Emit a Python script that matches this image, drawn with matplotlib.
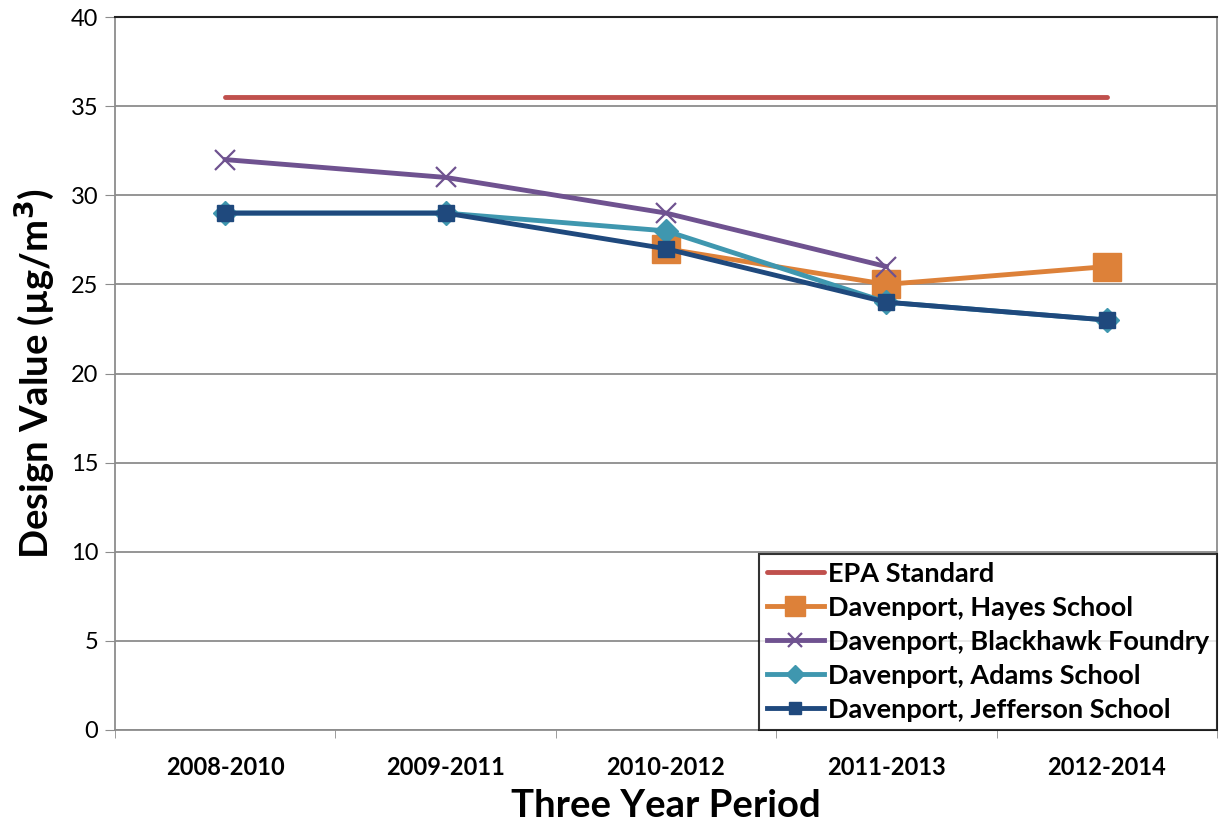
import numpy as np
import matplotlib.pyplot as plt

plt.rcParams['font.family'] = ['Lato', 'DejaVu Sans']

# data
periods = ['2008-2010', '2009-2011', '2010-2012', '2011-2013', '2012-2014']
epa = [35.5, 35.5, 35.5, 35.5, 35.5]
hayes = [np.nan, np.nan, 27, 25, 26]
blackhawk = [32, 31, 29, 26, np.nan]
adams = [29, 29, 28, 24, 23]
jefferson = [29, 29, 27, 24, 23]

x = np.arange(len(periods))

fig = plt.figure(figsize=(12.22, 8.26), dpi=100)
ax = fig.add_axes([115 / 1222, 1 - 730 / 826, (1217 - 115) / 1222, (730 - 17) / 826])

lw = 3.5
ax.plot(x, epa, color='#C0504D', lw=lw, label='EPA Standard', solid_capstyle='round')
ax.plot(x, hayes, color='#DD8139', lw=lw, marker='s', ms=20, label='Davenport, Hayes School')
ax.plot(x, blackhawk, color='#6F5290', lw=lw, marker='x', ms=14, mew=1.6,
        label='Davenport, Blackhawk Foundry')
ax.plot(x, adams, color='#3F97AF', lw=lw, marker='D', ms=12.5, label='Davenport, Adams School')
ax.plot(x, jefferson, color='#1F497D', lw=lw, marker='s', ms=12, label='Davenport, Jefferson School')

ax.set_xlim(-0.5, 4.5)
ax.set_ylim(0, 40)
ax.set_yticks(range(0, 41, 5))
ax.yaxis.grid(True, color='#8C8C8C', lw=1.3)
ax.set_axisbelow(True)

ax.set_xticks(x)
ax.set_xticklabels(periods, fontsize=17, fontweight='bold')
ax.set_xticks(np.arange(-0.5, 4.6, 1), minor=True)
ax.tick_params(axis='x', which='major', length=0, pad=19)
ax.tick_params(axis='x', which='minor', length=6, color='#8C8C8C', direction='out')
ax.tick_params(axis='y', labelsize=17, length=7, color='#8C8C8C', pad=5)

for s in ['left', 'bottom', 'right']:
    ax.spines[s].set_color('#8C8C8C')
    ax.spines[s].set_linewidth(1.3)
ax.spines['top'].set_color('#222222')
ax.spines['top'].set_linewidth(1.5)

ax.set_ylabel('Design Value (µg/m$^\\mathbf{3}$)', fontsize=27.5, fontweight='bold', labelpad=10)
ax.set_xlabel('Three Year Period', fontsize=27.5, fontweight='bold', labelpad=7)

leg = ax.legend(loc='lower right', prop={'weight': 'bold', 'size': 19.5},
                frameon=True, fancybox=False, edgecolor='black', borderpad=0.3,
                labelspacing=0.37, handlelength=2.1, handletextpad=0.15,
                borderaxespad=0.0, markerscale=0.7)
leg.get_frame().set_linewidth(1.5)

fig.savefig('out.png', dpi=100)
